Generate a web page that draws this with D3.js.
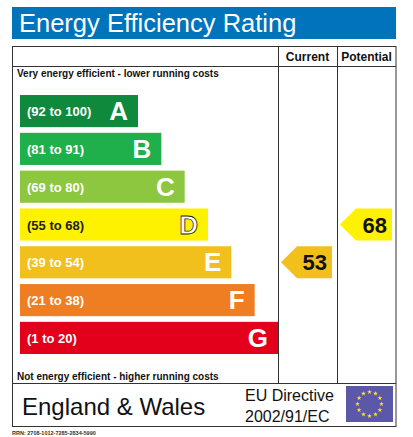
<!DOCTYPE html><html><head><meta charset="utf-8"><script src="https://d3js.org/d3.v7.min.js"></script>
<style>body{margin:0;background:#fff}</style></head><body><svg id="c" width="413" height="437"></svg>
<script>
const letters=["A","B","C","D","E","F","G"];
const ranges=["(92 to 100)","(81 to 91)","(69 to 80)","(55 to 68)","(39 to 54)","(21 to 38)","(1 to 20)"];
const mins=[92,81,69,55,39,21,1];
const colors=["#0f8a3c","#1fb04b","#8dc63f","#fff200","#f2c01c","#ef7d22","#e3001b"];
const current=53, potential=68;
const svg=d3.select("#c"), F="Liberation Sans, Arial, sans-serif";
svg.append("rect").attr("x",12).attr("y",7).attr("width",384).attr("height",32).attr("fill","#0073bd");
svg.append("text").attr("x",19).attr("y",32).attr("font-family",F).attr("font-size",25.5).attr("fill","#fff").text("Energy Efficiency Rating");
const g=svg.append("g").attr("fill","none").attr("stroke","#333").attr("stroke-width",1);
g.append("rect").attr("x",12.5).attr("y",46.5).attr("width",383.5).attr("height",380);
[[12,66,396,66],[12,383,396,383],[278,46,278,383],[337,46,337,383]].forEach(l=>g.append("line").attr("x1",l[0]).attr("y1",l[1]+.5).attr("x2",l[2]).attr("y2",l[3]+.5).attr("x1",l[0]+(l[0]==l[2]?.5:0)).attr("x2",l[2]+(l[0]==l[2]?.5:0)));
const hb=(x,y,t,s,a)=>svg.append("text").attr("x",x).attr("y",y).attr("font-family",F).attr("font-weight","bold").attr("font-size",s).attr("text-anchor",a||"start").attr("fill","#111").text(t);
hb(307.5,61,"Current",12,"middle");hb(366.5,61,"Potential",12,"middle");
hb(17,77,"Very energy efficient - lower running costs",10);
hb(17,380,"Not energy efficient - higher running costs",10);
const y=d3.scaleBand().domain(letters).range([92,357]).paddingInner(0.15).paddingOuter(0.08);
const w=d3.scaleLinear().domain([0,6]).range([138,278]);
const bars=svg.selectAll("g.b").data(letters).join("g");
bars.append("rect").attr("x",20).attr("y",d=>y(d)).attr("width",(d,i)=>w(i)-20).attr("height",y.bandwidth()).attr("fill",(d,i)=>colors[i]);
bars.append("text").attr("x",27).attr("y",d=>y(d)+y.bandwidth()/2+5).attr("font-family",F).attr("font-weight","bold").attr("font-size",13).attr("fill",(d,i)=>i==3?"#222":"#fff").text((d,i)=>ranges[i]);
bars.append("text").attr("x",(d,i)=>w(i)-10).attr("y",d=>y(d)+y.bandwidth()/2+9).attr("text-anchor","end").attr("font-family",F).attr("font-weight","bold").attr("font-size",26).attr("fill","#fff").attr("stroke",(d,i)=>i==3?"#222":"none").attr("stroke-width",0.8).text(d=>d);
function arrow(v,x0,x1){const i=mins.findIndex(m=>v>=m);const t=y(letters[i]),h=y.bandwidth();
svg.append("path").attr("d",`M${x0},${t+h/2}L${x0+h/2},${t}H${x1}V${t+h}H${x0+h/2}Z`).attr("fill",colors[i]);
svg.append("text").attr("x",x1-5).attr("y",t+h/2+8).attr("text-anchor","end").attr("font-family",F).attr("font-weight","bold").attr("font-size",22).attr("fill","#111").text(v);}
arrow(current,281,332);arrow(potential,340,392);
svg.append("text").attr("x",22).attr("y",415).attr("font-family",F).attr("font-size",24).attr("fill","#111").text("England & Wales");
svg.append("text").attr("x",245).attr("y",401).attr("font-family",F).attr("font-size",16).attr("fill","#111").text("EU Directive");
svg.append("text").attr("x",245).attr("y",422).attr("font-family",F).attr("font-size",16).attr("fill","#111").text("2002/91/EC");
svg.append("rect").attr("x",346).attr("y",386).attr("width",47).attr("height",36).attr("fill","#5b58a8");
svg.selectAll("path.s").data(d3.range(12)).join("path").attr("d",d3.symbol(d3.symbolStar,7)).attr("fill","#ffed00")
 .attr("transform",k=>`translate(${369.5+12*Math.sin(k*Math.PI/6)},${404-12*Math.cos(k*Math.PI/6)})`);
svg.append("text").attr("x",12).attr("y",435).attr("font-family",F).attr("font-weight","bold").attr("font-size",5.5).attr("fill","#333").text("RRN: 2708-1012-7285-2834-5990");
</script></body></html>
